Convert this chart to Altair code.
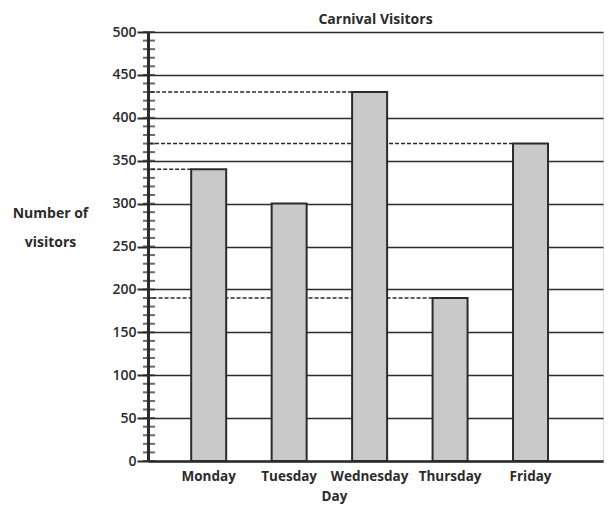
import altair as alt
import pandas as pd

days = ["Monday", "Tuesday", "Wednesday", "Thursday", "Friday"]
visitors = [340, 300, 430, 190, 370]
minor_ticks = [0, 10, 20, 30, 40, 50, 60, 70, 80, 90, 100, 110, 120, 130, 140, 150,
               160, 170, 180, 190, 200, 210, 220, 230, 240, 250, 260, 270, 280, 290,
               300, 310, 320, 330, 340, 350, 360, 370, 380, 390, 400, 410, 420, 430,
               440, 450, 460, 470, 480, 490, 500]
major_ticks = [0, 50, 100, 150, 200, 250, 300, 350, 400, 450, 500]

df = pd.DataFrame({"day": days, "visitors": visitors})
dash_df = df[df["visitors"] % 50 != 0]
ticks_df = pd.DataFrame({"visitors": minor_ticks})

FONT = "Open Sans"
INK = "#2b2b2b"

xscale = alt.Scale(domain=days, paddingInner=0.565, paddingOuter=0.61, align=0.44)
yscale = alt.Scale(domain=[0, 500], nice=False)

xaxis = alt.Axis(title="Day", ticks=False, tickSize=0, labelPadding=19,
                 labelBaseline="alphabetic", labelAngle=0,
                 labelFont=FONT, labelFontSize=13.5, labelFontWeight="bold",
                 labelColor=INK, domainColor=INK, domainWidth=2.5, grid=False,
                 titleFont=FONT, titleFontSize=13.5, titleFontWeight="bold",
                 titleColor=INK, titleX=186, titleY=39,
                 titleBaseline="alphabetic", titleAnchor="start", titleAlign="center")
yaxis = alt.Axis(values=major_ticks, grid=True, gridColor=INK, gridWidth=1.6,
                 tickColor=INK, tickWidth=2, tickSize=11, labelPadding=1,
                 labelFont=FONT, labelFontSize=14, labelFontWeight=600,
                 labelColor=INK, domainColor=INK, domainWidth=3,
                 title=["Number of", "visitors"], titleAngle=0,
                 titleFont=FONT, titleFontSize=14, titleFontWeight="bold",
                 titleColor=INK, titleX=-98, titleY=185, titleAlign="center",
                 titleBaseline="alphabetic", titleLineHeight=29)

bars = alt.Chart(df).mark_bar(fill="#c9c9c9", stroke=INK, strokeWidth=2).encode(
    x=alt.X("day:N", scale=xscale, sort=days, axis=xaxis),
    y=alt.Y("visitors:Q", scale=yscale, axis=yaxis),
)

dashes = alt.Chart(dash_df).mark_rule(color=INK, strokeWidth=1.5, strokeDash=[4, 2]).encode(
    x=alt.X("day:N", scale=xscale, sort=days, bandPosition=0, axis=xaxis),
    x2=alt.value(0),
    y=alt.Y("visitors:Q", scale=yscale, axis=yaxis),
)

minor = alt.Chart(ticks_df).mark_tick(color=INK, thickness=2, size=12).encode(
    y=alt.Y("visitors:Q", scale=yscale, axis=yaxis),
    x=alt.value(1),
)

chart = alt.layer(dashes, bars, minor).properties(
    width=455, height=429,
    title=alt.TitleParams("Carnival Visitors", font=FONT, fontSize=14, fontWeight="bold",
                          color=INK, anchor="middle", offset=-2),
    autosize=alt.AutoSizeParams(type="none"),
    padding={"left": 140, "top": 24, "right": 2, "bottom": 43},
).configure_view(strokeWidth=0).configure(background="white")

chart.save("out.html", embed_options={"renderer": "svg", "actions": False})
